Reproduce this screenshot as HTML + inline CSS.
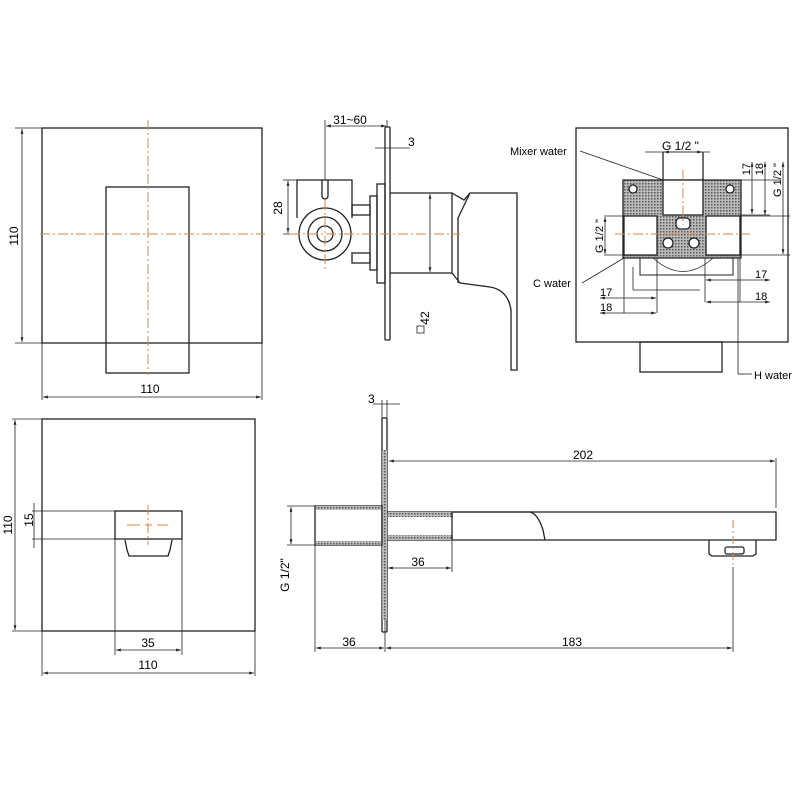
<!DOCTYPE html>
<html><head><style>body{margin:0;background:#fff}svg{display:block}</style></head><body>
<svg width="800" height="800" viewBox="0 0 800 800" xmlns="http://www.w3.org/2000/svg" font-family="Liberation Sans, sans-serif" font-size="12">
<defs>
<pattern id="h" width="3" height="3" patternUnits="userSpaceOnUse"><rect width="3" height="3" fill="#bbb"/><rect width="1.5" height="1.5" fill="#555"/></pattern>
<marker id="a" viewBox="0 0 10 10" refX="10" refY="5" markerWidth="6" markerHeight="6" orient="auto-start-reverse"><path d="M0,2L10,5L0,8z" fill="#222"/></marker>
</defs>
<g stroke="#222" fill="none" stroke-width="1.3">
<rect x="42" y="128" width="220" height="215"/>
<rect x="106" y="187" width="83" height="186"/>
<line x1="42" y1="343" x2="42" y2="400" stroke-width="0.8"/><line x1="262" y1="343" x2="262" y2="400" stroke-width="0.8"/>
<line x1="15" y1="128" x2="42" y2="128" stroke-width="0.8"/><line x1="15" y1="343" x2="42" y2="343" stroke-width="0.8"/>
</g>
<g stroke="#222" stroke-width="0.8" marker-start="url(#a)" marker-end="url(#a)">
<line x1="22" y1="129" x2="22" y2="342"/><line x1="43" y1="397" x2="261" y2="397"/>
</g>
<g stroke="#d9864a" stroke-width="1" stroke-dasharray="10,3,2,3">
<line x1="40" y1="234" x2="265" y2="234"/><line x1="148" y1="120" x2="148" y2="375"/>
</g>
<text x="18" y="236" transform="rotate(-90 18 236)" text-anchor="middle">110</text>
<text x="150" y="393" text-anchor="middle">110</text>

<g stroke="#222" fill="none" stroke-width="1.3">
<rect x="42" y="419" width="213" height="212"/>
<rect x="115" y="511" width="67" height="28"/>
<path d="M125,540 L127,550 L129,556 L168,556 L170,550 L172,540"/>
<line x1="115" y1="539" x2="115" y2="655" stroke-width="0.8"/><line x1="182" y1="539" x2="182" y2="655" stroke-width="0.8"/>
<line x1="32" y1="511" x2="115" y2="511" stroke-width="0.8"/><line x1="32" y1="539" x2="115" y2="539" stroke-width="0.8"/>
<line x1="12" y1="419" x2="42" y2="419" stroke-width="0.8"/><line x1="12" y1="631" x2="42" y2="631" stroke-width="0.8"/>
<line x1="42" y1="631" x2="42" y2="676" stroke-width="0.8"/><line x1="255" y1="631" x2="255" y2="676" stroke-width="0.8"/>
</g>
<g stroke="#222" stroke-width="0.8" marker-start="url(#a)" marker-end="url(#a)">
<line x1="15" y1="420" x2="15" y2="630"/><line x1="116" y1="650" x2="181" y2="650"/><line x1="43" y1="673" x2="254" y2="673"/>
</g>
<line x1="34" y1="503" x2="34" y2="548" stroke="#222" stroke-width="0.8"/>
<g stroke="#d9864a" stroke-width="1"><line x1="127" y1="525" x2="140" y2="525"/><line x1="145" y1="525" x2="152" y2="525"/><line x1="157" y1="525" x2="168" y2="525"/><line x1="148" y1="505" x2="148" y2="545" stroke-dasharray="10,3,2,3"/></g>
<text x="12" y="525" transform="rotate(-90 12 525)" text-anchor="middle">110</text>
<text x="33" y="520" transform="rotate(-90 33 520)" text-anchor="middle">15</text>
<text x="148" y="647" text-anchor="middle">35</text>
<text x="148" y="669" text-anchor="middle">110</text>

<g stroke="#222" fill="none" stroke-width="1.3">
<rect x="385" y="127" width="5" height="213" rx="1"/>
<rect x="377" y="184" width="8" height="99"/>
<rect x="370" y="196" width="7" height="74"/>
<rect x="352" y="205" width="18" height="10"/><rect x="352" y="253" width="18" height="10"/>
<path d="M297,218 L297,180 L352,180 L352,218"/>
<circle cx="325" cy="234" r="26"/><circle cx="325" cy="234" r="17"/><circle cx="325" cy="234" r="8"/>
<path d="M322,180 L322,196 A3,3 0 0 0 328,196 L328,180"/>
<path d="M390,193 L452,193 L464,200 L470,193 L517,193 L517,370 L511,370 L511,310 Q508,290 490,287 L460,283 L452,273 L390,273"/>
<path d="M470,193 L458,218 L458,283"/>
<line x1="452" y1="193" x2="452" y2="273"/>
</g>
<g stroke="#222" stroke-width="0.8">
<line x1="325" y1="120" x2="325" y2="180"/><line x1="387" y1="120" x2="387" y2="127"/>
<line x1="283" y1="180" x2="297" y2="180"/><line x1="283" y1="234" x2="300" y2="234"/>
<line x1="375" y1="148" x2="410" y2="148"/><line x1="385" y1="140" x2="385" y2="152"/><line x1="390" y1="140" x2="390" y2="152"/>
</g>
<g stroke="#222" stroke-width="0.8" marker-start="url(#a)" marker-end="url(#a)">
<line x1="326" y1="126" x2="386" y2="126"/><line x1="288" y1="181" x2="288" y2="233"/><line x1="430" y1="194" x2="430" y2="272"/>
</g>
<g stroke="#d9864a" stroke-width="1" stroke-dasharray="10,3,2,3"><line x1="290" y1="234" x2="460" y2="234"/><line x1="325" y1="200" x2="325" y2="270"/></g>
<text x="350" y="124" text-anchor="middle">31~60</text>
<text x="408" y="146">3</text>
<text x="282" y="208" transform="rotate(-90 282 208)" text-anchor="middle">28</text>
<rect x="417" y="326" width="7" height="7" fill="none" stroke="#222" stroke-width="0.8"/>
<text x="429" y="318" transform="rotate(-90 429 318)" text-anchor="middle">42</text>

<g stroke="#222" fill="none" stroke-width="1.3">
<rect x="576" y="128" width="212" height="214"/>
<rect x="640" y="342" width="82" height="30"/>
<path d="M623,180 L741,180 L741,258 L623,258 Z" fill="url(#h)" stroke="#222"/>
<rect x="663" y="180" width="40" height="35" fill="#fff"/>
<line x1="663" y1="152" x2="663" y2="180"/><line x1="703" y1="152" x2="703" y2="180"/>
<rect x="624" y="216" width="33" height="39" fill="#fff"/>
<rect x="706" y="216" width="34" height="39" fill="#fff"/>
<circle cx="633" cy="189" r="4" fill="#fff"/><circle cx="730" cy="189" r="4" fill="#fff"/>
<rect x="676" y="218" width="14" height="11" rx="4" fill="#fff"/>
<circle cx="668" cy="243" r="5" fill="#fff"/><circle cx="694" cy="243" r="5" fill="#fff"/>
<path d="M640,258 L640,275 L733,275 L733,258" stroke-width="1"/>
<path d="M653,258 Q683,285 713,258" stroke-width="0.8"/>
</g>
<g stroke="#222" stroke-width="0.8">
<line x1="645" y1="152" x2="710" y2="152"/>
<line x1="741" y1="180" x2="780" y2="180"/><line x1="741" y1="215" x2="770" y2="215"/><line x1="741" y1="216" x2="790" y2="216"/><line x1="741" y1="255" x2="790" y2="255"/>
<line x1="604" y1="216" x2="624" y2="216"/><line x1="604" y1="255" x2="624" y2="255"/>
<line x1="624" y1="258" x2="624" y2="313"/><line x1="657" y1="258" x2="657" y2="313"/>
<line x1="705" y1="258" x2="705" y2="302"/><line x1="740" y1="258" x2="740" y2="302"/>
<line x1="580" y1="151" x2="663" y2="180"/>
<line x1="582" y1="283" x2="624" y2="258"/>
<line x1="738" y1="258" x2="738" y2="374"/><line x1="738" y1="374" x2="752" y2="374"/>
<line x1="633" y1="267" x2="633" y2="290" /><line x1="633" y1="290" x2="700" y2="290"/>
</g>
<g stroke="#222" stroke-width="0.8" marker-start="url(#a)" marker-end="url(#a)">
<line x1="664" y1="152" x2="702" y2="152"/>
<line x1="752" y1="162" x2="752" y2="214"/><line x1="765" y1="162" x2="765" y2="215"/>
<line x1="783" y1="162" x2="783" y2="254"/>
<line x1="605" y1="217" x2="605" y2="254"/>
<line x1="600" y1="298" x2="656" y2="298"/><line x1="600" y1="313" x2="656" y2="313"/>
<line x1="706" y1="280" x2="770" y2="280"/><line x1="706" y1="302" x2="770" y2="302"/>
</g>
<g stroke="#d9864a" stroke-width="1" stroke-dasharray="10,3,2,3"><line x1="683" y1="170" x2="683" y2="225"/><line x1="615" y1="234" x2="750" y2="234"/></g>
<text x="662" y="150">G 1/2 "</text>
<text x="510" y="155" font-size="11">Mixer water</text>
<text x="533" y="287" font-size="11">C water</text>
<text x="754" y="379" font-size="11">H water</text>
<text x="750" y="163" transform="rotate(-90 750 163)" text-anchor="end" font-size="11">17</text>
<text x="763" y="163" transform="rotate(-90 763 163)" text-anchor="end" font-size="11">18</text>
<text x="781" y="180" transform="rotate(-90 781 180)" text-anchor="middle" font-size="11">G 1/2 "</text>
<text x="603" y="236" transform="rotate(-90 603 236)" text-anchor="middle" font-size="11">G 1/2 "</text>
<text x="600" y="296" font-size="11">17</text><text x="600" y="311" font-size="11">18</text>
<text x="755" y="278" font-size="11">17</text><text x="755" y="300" font-size="11">18</text>

<g stroke="#222" fill="none" stroke-width="1.3">
<rect x="382" y="418" width="5" height="214" rx="1"/>
<rect x="382" y="450" width="5" height="170" fill="url(#h)" stroke="none"/>
<rect x="315" y="506" width="67" height="39"/>
<rect x="316" y="506" width="65" height="4" fill="url(#h)" stroke="none"/><rect x="316" y="541" width="65" height="4" fill="url(#h)" stroke="none"/>
<path d="M387,512 L776,512 L776,540 L387,540"/>
<rect x="388" y="512" width="65" height="5" fill="url(#h)" stroke="none"/><rect x="388" y="535" width="65" height="5" fill="url(#h)" stroke="none"/>
<path d="M453,512 L530,512 Q538,514 543,530 L545,540"/>
<line x1="452" y1="512" x2="452" y2="540"/>
<path d="M709,540 L709,554 L712,556 L753,556 L756,554 L756,540"/>
<rect x="725" y="547" width="19" height="7" rx="2"/>
</g>
<g stroke="#222" stroke-width="0.8">
<line x1="776" y1="458" x2="776" y2="508"/><line x1="287" y1="506" x2="315" y2="506"/><line x1="287" y1="545" x2="315" y2="545"/>
<line x1="315" y1="545" x2="315" y2="652"/><line x1="385" y1="620" x2="385" y2="652"/><line x1="733" y1="567" x2="733" y2="652"/>
<line x1="452" y1="540" x2="452" y2="572"/><line x1="373" y1="404" x2="400" y2="404"/><line x1="382" y1="400" x2="382" y2="418"/><line x1="387" y1="400" x2="387" y2="418"/>
</g>
<g stroke="#222" stroke-width="0.8" marker-start="url(#a)" marker-end="url(#a)">
<line x1="389" y1="461" x2="775" y2="461"/><line x1="291" y1="507" x2="291" y2="544"/>
<line x1="388" y1="568" x2="451" y2="568"/><line x1="316" y1="648" x2="384" y2="648"/><line x1="386" y1="648" x2="732" y2="648"/>
</g>
<line x1="733" y1="520" x2="733" y2="565" stroke="#d9864a" stroke-width="1" stroke-dasharray="8,3,2,3"/>
<text x="368" y="403">3</text>
<text x="583" y="459" text-anchor="middle">202</text>
<text x="289" y="575" transform="rotate(-90 289 575)" text-anchor="middle">G 1/2"</text>
<text x="418" y="566" text-anchor="middle">36</text>
<text x="349" y="646" text-anchor="middle">36</text>
<text x="572" y="646" text-anchor="middle">183</text>
</svg>
</body></html>
